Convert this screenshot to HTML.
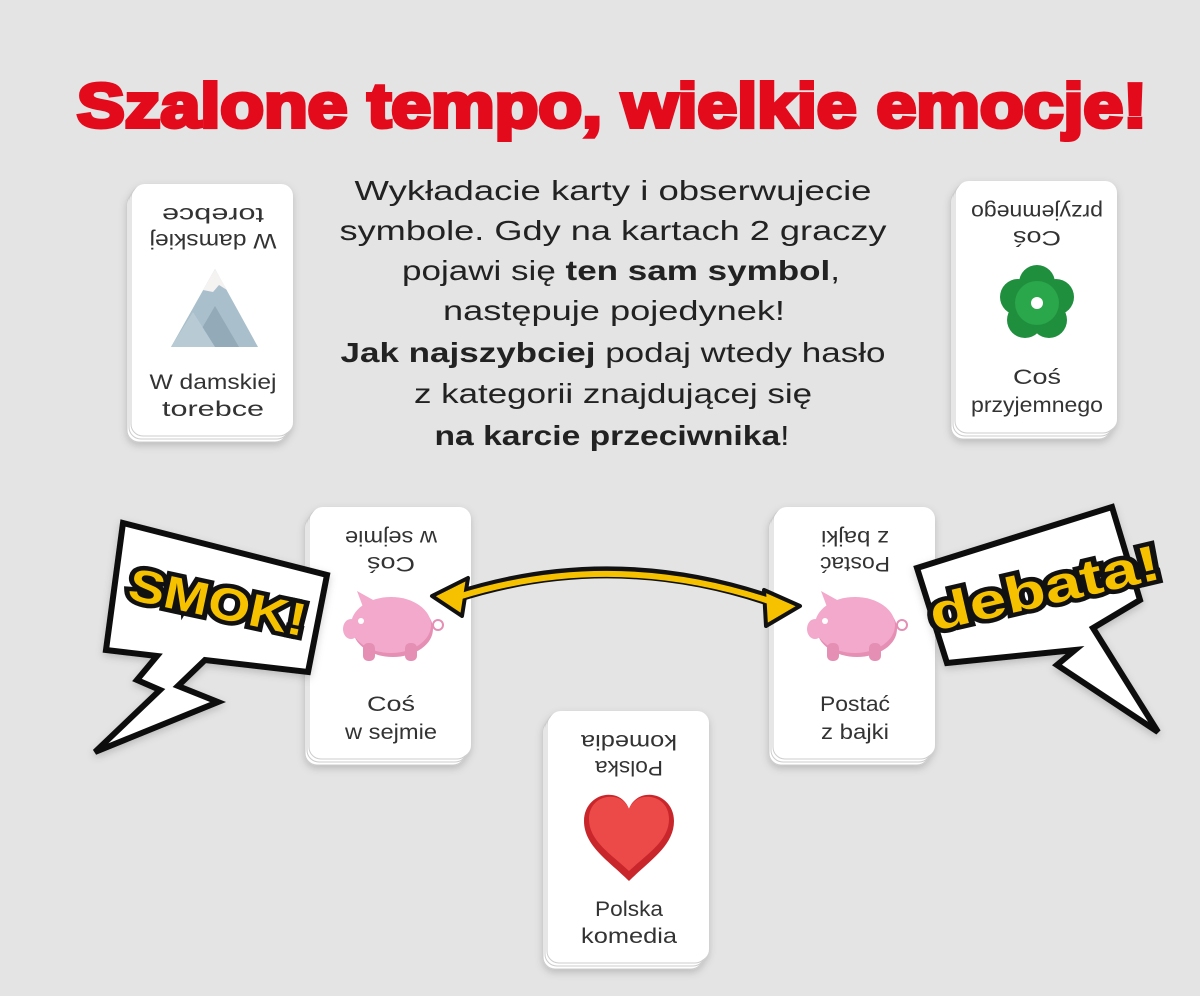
<!DOCTYPE html>
<html><head><meta charset="utf-8"><style>
html,body{margin:0;padding:0;background:#e4e4e4;}
svg{display:block}
.ct{font-family:"Liberation Sans",sans-serif;font-size:28px;fill:#222;text-anchor:middle}
.cd{font-family:"Liberation Sans",sans-serif;font-size:21px;fill:#333;text-anchor:middle}
</style></head><body>
<svg width="1200" height="996" viewBox="0 0 1200 996" xmlns="http://www.w3.org/2000/svg">
<defs>
<filter id="sh" x="-20%" y="-20%" width="140%" height="140%"><feDropShadow dx="0" dy="3" stdDeviation="4" flood-color="#000" flood-opacity="0.18"/></filter>
<g id="stack">
<rect x="-6" y="8" width="160" height="250" rx="12" fill="#fff" stroke="#ccc"/>
<rect x="-4" y="5" width="160" height="250" rx="12" fill="#fff" stroke="#ccc"/>
<rect x="-2" y="2" width="160" height="250" rx="12" fill="#fff" stroke="#ccc"/>
<rect x="0" y="0" width="160" height="250" rx="12" fill="#fff"/>
</g>
<g id="pig">
<ellipse cx="2" cy="4" rx="40" ry="28" fill="#e58fb5"/>
<ellipse cx="0" cy="0" rx="40" ry="28" fill="#f2a9cb"/>
<rect x="-28" y="18" width="12" height="18" rx="5" fill="#e58fb5"/>
<rect x="14" y="18" width="12" height="18" rx="5" fill="#e58fb5"/>
<polygon points="-28,-18 -34,-34 -16,-24" fill="#f2a9cb"/>
<ellipse cx="-40" cy="4" rx="8" ry="10" fill="#f2a9cb"/>
<circle cx="-30" cy="-4" r="3" fill="#fff"/>
<circle cx="47" cy="0" r="5" fill="none" stroke="#e58fb5" stroke-width="2"/>
</g>
</defs>
<rect width="1200" height="996" fill="#e4e4e4"/>

<text x="612" y="127" font-family="Liberation Sans, sans-serif" font-weight="bold" font-size="62" fill="#e30a1c" stroke="#e30a1c" stroke-width="4" text-anchor="middle" textLength="1070" lengthAdjust="spacingAndGlyphs">Szalone tempo, wielkie emocje!</text>

<text class="ct" x="613" y="200" textLength="517" lengthAdjust="spacingAndGlyphs">Wykładacie karty i obserwujecie</text>
<text class="ct" x="613" y="240" textLength="547" lengthAdjust="spacingAndGlyphs">symbole. Gdy na kartach 2 graczy</text>
<text class="ct" x="621" y="280" textLength="438" lengthAdjust="spacingAndGlyphs">pojawi się <tspan font-weight="bold">ten sam symbol</tspan>,</text>
<text class="ct" x="614" y="320" textLength="342" lengthAdjust="spacingAndGlyphs">następuje pojedynek!</text>
<text class="ct" x="613" y="362" textLength="545" lengthAdjust="spacingAndGlyphs"><tspan font-weight="bold">Jak najszybciej</tspan> podaj wtedy hasło</text>
<text class="ct" x="613" y="403" textLength="398" lengthAdjust="spacingAndGlyphs">z kategorii znajdującej się</text>
<text class="ct" x="612" y="445" textLength="355" lengthAdjust="spacingAndGlyphs"><tspan font-weight="bold">na karcie przeciwnika</tspan>!</text>

<!-- card 1 -->
<g transform="translate(133,184)" filter="url(#sh)"><use href="#stack"/></g>
<g transform="translate(133,184)">
<g transform="rotate(180 80 40)"><text class="cd" x="80" y="30" textLength="127" lengthAdjust="spacingAndGlyphs">W damskiej</text><text class="cd" x="80" y="56" textLength="102" lengthAdjust="spacingAndGlyphs">torebce</text></g>
<polygon points="38,163 82,85 125,163" fill="#a9bfcb"/>
<polygon points="70,106 82,85 94,106 86,101 80,108" fill="#f5f2f2"/>
<polygon points="58,163 82,122 106,163" fill="#93abb8"/>
<polygon points="38,163 60,128 82,163" fill="#b8cbd5"/>
<text class="cd" x="80" y="205" textLength="127" lengthAdjust="spacingAndGlyphs">W damskiej</text><text class="cd" x="80" y="232" textLength="102" lengthAdjust="spacingAndGlyphs">torebce</text>
</g>

<!-- card 2 -->
<g transform="translate(957,181)" filter="url(#sh)"><use href="#stack"/></g>
<g transform="translate(957,181)">
<g transform="rotate(180 80 40)"><text class="cd" x="80" y="30" textLength="48" lengthAdjust="spacingAndGlyphs">Coś</text><text class="cd" x="80" y="56" textLength="132" lengthAdjust="spacingAndGlyphs">przyjemnego</text></g>
<g transform="translate(80,122)">
<circle cx="0" cy="-20" r="18" fill="#1f8f3e"/><circle cx="19" cy="-6" r="18" fill="#1f8f3e"/><circle cx="12" cy="17" r="18" fill="#1f8f3e"/><circle cx="-12" cy="17" r="18" fill="#1f8f3e"/><circle cx="-19" cy="-6" r="18" fill="#1f8f3e"/>
<circle cx="0" cy="0" r="22" fill="#2aa64b"/><circle cx="0" cy="0" r="6" fill="#fff"/>
</g>
<text class="cd" x="80" y="203" textLength="48" lengthAdjust="spacingAndGlyphs">Coś</text><text class="cd" x="80" y="231" textLength="132" lengthAdjust="spacingAndGlyphs">przyjemnego</text>
</g>

<!-- card 3 -->
<g transform="translate(311,507)" filter="url(#sh)"><use href="#stack"/></g>
<g transform="translate(311,507)">
<g transform="rotate(180 80 40)"><text class="cd" x="80" y="30" textLength="48" lengthAdjust="spacingAndGlyphs">Coś</text><text class="cd" x="80" y="56" textLength="92" lengthAdjust="spacingAndGlyphs">w sejmie</text></g>
<use href="#pig" x="80" y="118"/>
<text class="cd" x="80" y="204" textLength="48" lengthAdjust="spacingAndGlyphs">Coś</text><text class="cd" x="80" y="232" textLength="92" lengthAdjust="spacingAndGlyphs">w sejmie</text>
</g>

<!-- card 4 -->
<g transform="translate(775,507)" filter="url(#sh)"><use href="#stack"/></g>
<g transform="translate(775,507)">
<g transform="rotate(180 80 40)"><text class="cd" x="80" y="30" textLength="70" lengthAdjust="spacingAndGlyphs">Postać</text><text class="cd" x="80" y="56" textLength="68" lengthAdjust="spacingAndGlyphs">z bajki</text></g>
<use href="#pig" x="80" y="118"/>
<text class="cd" x="80" y="204" textLength="70" lengthAdjust="spacingAndGlyphs">Postać</text><text class="cd" x="80" y="232" textLength="68" lengthAdjust="spacingAndGlyphs">z bajki</text>
</g>

<!-- card 5 -->
<g transform="translate(549,711)" filter="url(#sh)"><use href="#stack"/></g>
<g transform="translate(549,711)">
<g transform="rotate(180 80 40)"><text class="cd" x="80" y="30" textLength="68" lengthAdjust="spacingAndGlyphs">Polska</text><text class="cd" x="80" y="56" textLength="96" lengthAdjust="spacingAndGlyphs">komedia</text></g>
<path d="M80,170 C60,150 35,135 35,110 C35,92 50,82 63,84 C72,85 78,92 80,98 C82,92 88,85 97,84 C110,82 125,92 125,110 C125,135 100,150 80,170Z" fill="#c9262b"/>
<path d="M80,160 C62,143 40,130 40,108 C40,92 53,84 65,86 C73,87 78,93 80,98 C82,93 87,87 95,86 C107,84 120,92 120,108 C120,130 98,143 80,160Z" fill="#ec4a48"/>
<text class="cd" x="80" y="205" textLength="68" lengthAdjust="spacingAndGlyphs">Polska</text><text class="cd" x="80" y="232" textLength="96" lengthAdjust="spacingAndGlyphs">komedia</text>
</g>

<!-- arrow -->
<path d="M455,597 Q615,545 778,603" fill="none" stroke="#111" stroke-width="12"/>
<polygon points="432,596 468,578 462,616" fill="#f6c200" stroke="#111" stroke-width="4" stroke-linejoin="round"/>
<polygon points="800,606 764,590 766,626" fill="#f6c200" stroke="#111" stroke-width="4" stroke-linejoin="round"/>
<path d="M458,597 Q615,548 775,603" fill="none" stroke="#f6c200" stroke-width="6"/>

<!-- SMOK bubble -->
<polygon points="123,523 327,575 308,672 205,660 178,686 218,702 95,752 160,690 137,680 157,656 106,650" fill="#fff" stroke="#111" stroke-width="6" stroke-linejoin="miter" filter="url(#sh)"/>
<text x="218" y="618" transform="rotate(12 218 600)" font-family="Liberation Sans, sans-serif" font-weight="bold" font-size="46" fill="#f6c200" stroke="#111" stroke-width="9" paint-order="stroke" text-anchor="middle" textLength="180" lengthAdjust="spacingAndGlyphs">SMOK!</text>

<!-- debata bubble -->
<polygon points="917,568 1112,507 1140,600 1093,628 1158,732 1057,665 1075,650 947,663" fill="#fff" stroke="#111" stroke-width="6" stroke-linejoin="miter" filter="url(#sh)"/>
<text x="1045" y="605" transform="rotate(-13 1045 590)" font-family="Liberation Sans, sans-serif" font-weight="bold" font-size="50" fill="#f6c200" stroke="#111" stroke-width="9" paint-order="stroke" text-anchor="middle" textLength="235" lengthAdjust="spacingAndGlyphs">debata!</text>
</svg>
</body></html>
